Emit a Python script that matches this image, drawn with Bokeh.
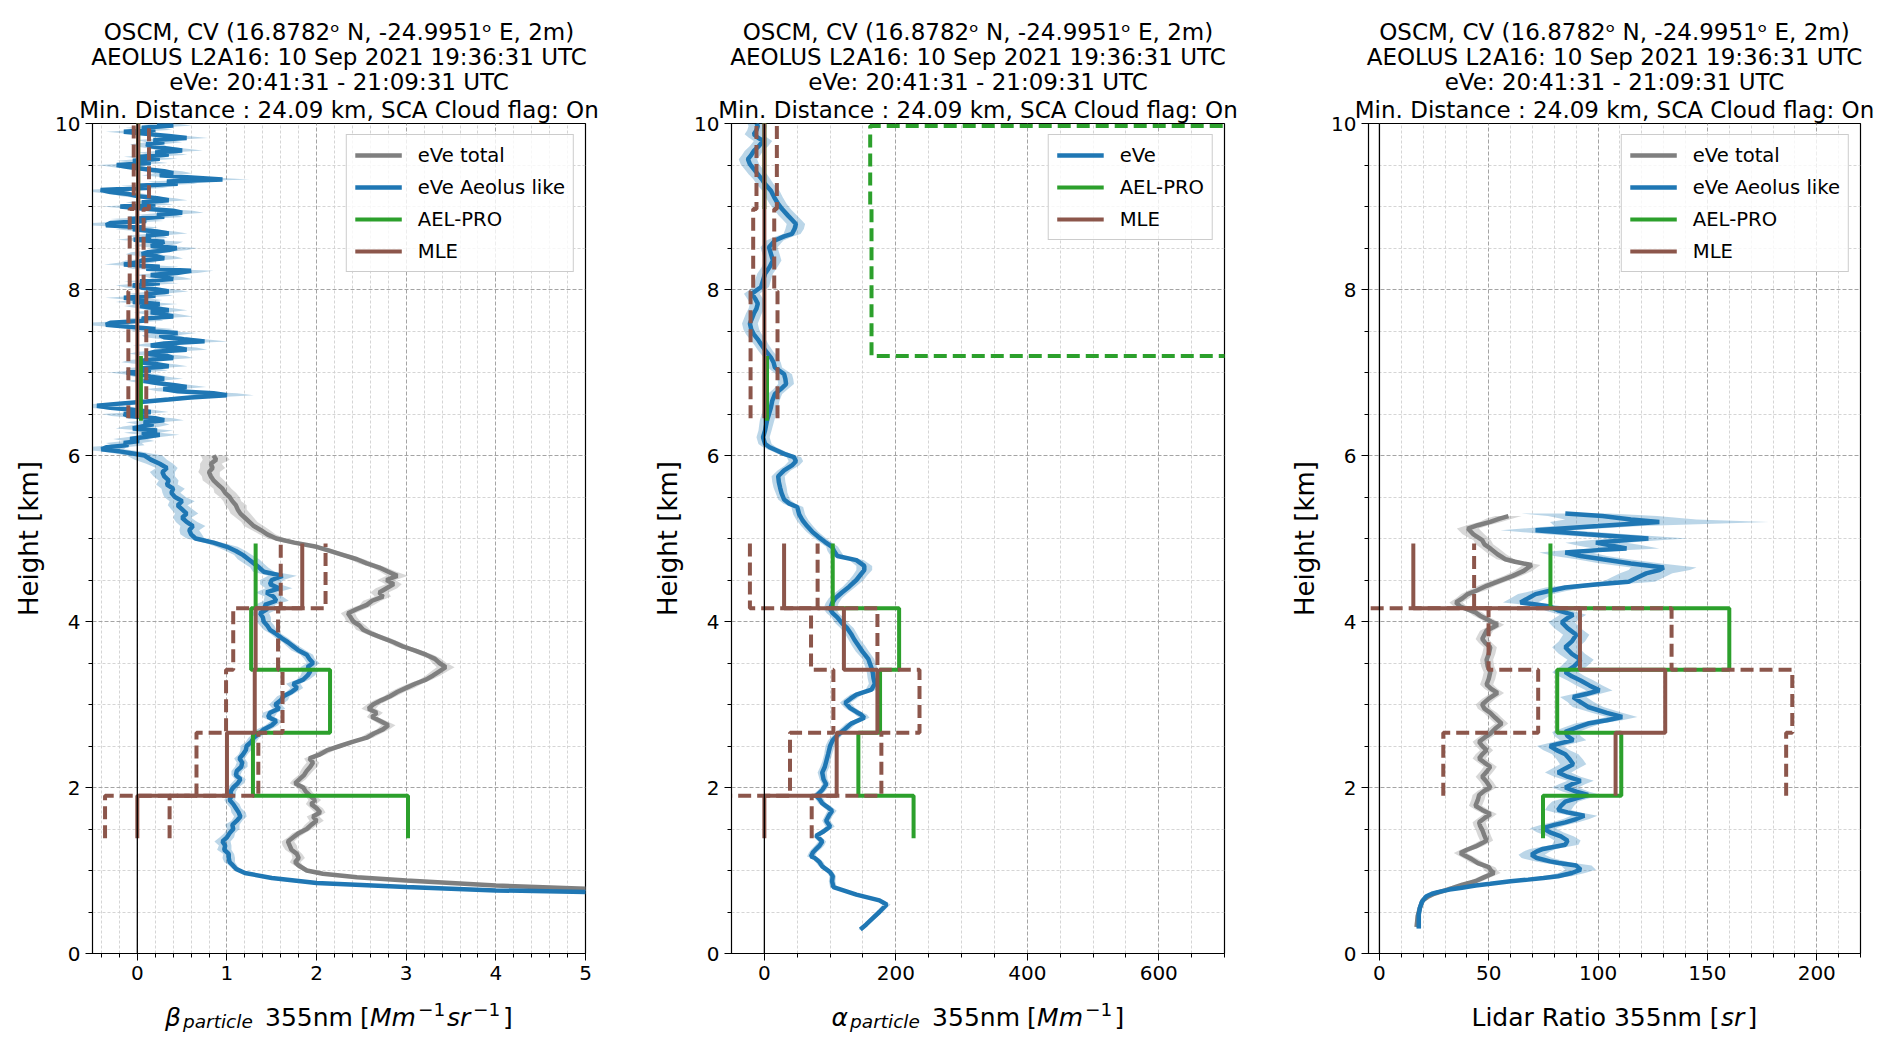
import numpy as np
from bokeh.plotting import figure
from bokeh.models import Range1d, FixedTicker, Span, Legend, LegendItem, Title
from bokeh.layouts import row, column
from bokeh.core.properties import value
from bokeh.embed import file_html
from bokeh.resources import INLINE

FONT = "DejaVu Sans"
BLUE, GRAY, GREEN, BROWN = "#1f77b4", "#7f7f7f", "#2ca02c", "#8c564b"

TITLE_LINES = [
    "OSCM, CV (16.8782\u1d52 N, -24.9951\u1d52 E, 2m)",
    "AEOLUS L2A16: 10 Sep 2021 19:36:31 UTC",
    "eVe: 20:41:31 - 21:09:31 UTC",
    "Min. Distance : 24.09 km, SCA Cloud flag: On",
]

# ---------------- ticks ----------------
Y_TICKS = [0, 2, 4, 6, 8, 10]
Y_MINOR = [0.5, 1, 1.5, 2.5, 3, 3.5, 4.5, 5, 5.5, 6.5, 7, 7.5, 8.5, 9, 9.5]
X1_TICKS = [0, 1, 2, 3, 4, 5]
X1_MINOR = [-0.4, -0.2, 0.2, 0.4, 0.6, 0.8, 1.2, 1.4, 1.6, 1.8, 2.2, 2.4, 2.6, 2.8,
            3.2, 3.4, 3.6, 3.8, 4.2, 4.4, 4.6, 4.8]
X2_TICKS = [0, 200, 400, 600]
X2_MINOR = [50, 100, 150, 250, 300, 350, 450, 500, 550, 650, 700]
X3_TICKS = [0, 50, 100, 150, 200]
X3_MINOR = [10, 20, 30, 40, 60, 70, 80, 90, 110, 120, 130, 140, 160, 170, 180, 190, 210, 220]

# ---------------- panel 1: backscatter ----------------
beta_h_mid = [1.10, 1.15, 1.20, 1.25, 1.30, 1.35, 1.40, 1.45, 1.50, 1.55, 1.60, 1.65, 1.70, 1.75, 1.80, 1.85, 1.90, 1.95,
              2.00, 2.05, 2.10, 2.15, 2.20, 2.25, 2.30, 2.35, 2.40, 2.45, 2.50, 2.55, 2.60, 2.65, 2.70, 2.75, 2.80, 2.85, 2.90, 2.95,
              3.00, 3.05, 3.10, 3.15, 3.20, 3.25, 3.30, 3.35, 3.40, 3.45, 3.50, 3.55, 3.60, 3.65, 3.70, 3.75, 3.80, 3.85, 3.90, 3.95,
              4.00, 4.05, 4.10, 4.15, 4.20, 4.25, 4.30, 4.35, 4.40, 4.45, 4.50, 4.55, 4.60, 4.65, 4.70, 4.75, 4.80, 4.85, 4.90, 4.95,
              5.00, 5.05, 5.10, 5.15, 5.20, 5.25, 5.30, 5.35, 5.40, 5.45, 5.50, 5.55, 5.60, 5.65, 5.70, 5.75, 5.80, 5.85, 5.90, 5.95, 6.00]
beta_h_up = [6.025, 6.050, 6.075, 6.100, 6.125, 6.150, 6.175, 6.200,
             6.225, 6.250, 6.275, 6.300, 6.325, 6.350, 6.375, 6.400,
             6.425, 6.450, 6.475, 6.500, 6.525, 6.550, 6.575, 6.600,
             6.625, 6.650, 6.675, 6.700, 6.725, 6.750, 6.775, 6.800,
             6.825, 6.850, 6.875, 6.900, 6.925, 6.950, 6.975, 7.000,
             7.025, 7.050, 7.075, 7.100, 7.125, 7.150, 7.175, 7.200,
             7.225, 7.250, 7.275, 7.300, 7.325, 7.350, 7.375, 7.400,
             7.425, 7.450, 7.475, 7.500, 7.525, 7.550, 7.575, 7.600,
             7.625, 7.650, 7.675, 7.700, 7.725, 7.750, 7.775, 7.800,
             7.825, 7.850, 7.875, 7.900, 7.925, 7.950, 7.975, 8.000,
             8.025, 8.050, 8.075, 8.100, 8.125, 8.150, 8.175, 8.200,
             8.225, 8.250, 8.275, 8.300, 8.325, 8.350, 8.375, 8.400,
             8.425, 8.450, 8.475, 8.500, 8.525, 8.550, 8.575, 8.600,
             8.625, 8.650, 8.675, 8.700, 8.725, 8.750, 8.775, 8.800,
             8.825, 8.850, 8.875, 8.900, 8.925, 8.950, 8.975, 9.000,
             9.025, 9.050, 9.075, 9.100, 9.125, 9.150, 9.175, 9.200,
             9.225, 9.250, 9.275, 9.300, 9.325, 9.350, 9.375, 9.400,
             9.425, 9.450, 9.475, 9.500, 9.525, 9.550, 9.575, 9.600,
             9.625, 9.650, 9.675, 9.700, 9.725, 9.750, 9.775, 9.800,
             9.825, 9.850, 9.875, 9.900, 9.925, 9.950, 9.975, 10.000]

beta_aeolus_h_base = [0.72, 0.742, 0.76, 0.80, 0.85, 0.91, 0.97, 1.02, 1.08]
beta_aeolus_base = [6.5, 5.0, 4.0, 3.0, 2.0, 1.5, 1.2, 1.1, 1.05]
beta_aeolus_base_err = [0.01, 0.01, 0.01, 0.01, 0.02, 0.02, 0.03, 0.04, 0.05]
beta_aeolus_mid = [1.03, 1.02, 1.02, 0.97, 0.98, 0.95, 1.00, 1.03, 1.07, 1.06, 1.11, 1.15, 1.13, 1.10, 1.07, 1.03, 1.05, 1.04,
                   1.07, 1.12, 1.15, 1.10, 1.11, 1.16, 1.17, 1.14, 1.18, 1.21, 1.22, 1.27, 1.30, 1.36, 1.41, 1.50, 1.55, 1.46, 1.48, 1.58,
                   1.54, 1.60, 1.63, 1.72, 1.78, 1.74, 1.85, 1.90, 1.93, 1.90, 1.96, 1.92, 1.89, 1.80, 1.74, 1.68, 1.61, 1.55, 1.48, 1.45,
                   1.41, 1.40, 1.37, 1.45, 1.42, 1.55, 1.52, 1.44, 1.58, 1.48, 1.50, 1.62, 1.41, 1.36, 1.30, 1.24, 1.18, 1.10, 1.00, 0.85,
                   0.65, 0.60, 0.58, 0.62, 0.55, 0.50, 0.55, 0.50, 0.45, 0.50, 0.42, 0.38, 0.40, 0.33, 0.35, 0.30, 0.28, 0.33, 0.25, 0.15, 0.08]
beta_aeolus_mid_err = [0.06, 0.07, 0.06, 0.08, 0.07, 0.09, 0.08, 0.06, 0.07, 0.08, 0.06, 0.07, 0.08, 0.06, 0.07, 0.06, 0.05, 0.06,
                       0.06, 0.07, 0.06, 0.05, 0.06, 0.07, 0.06, 0.06, 0.05, 0.06, 0.07, 0.06, 0.06, 0.07, 0.08, 0.07, 0.06, 0.07, 0.08, 0.07,
                       0.07, 0.08, 0.07, 0.06, 0.07, 0.08, 0.07, 0.08, 0.09, 0.08, 0.07, 0.06, 0.07, 0.08, 0.07, 0.06, 0.07, 0.06, 0.07, 0.08,
                       0.08, 0.09, 0.10, 0.12, 0.11, 0.14, 0.10, 0.12, 0.15, 0.11, 0.13, 0.16, 0.12, 0.10, 0.11, 0.12, 0.10, 0.11, 0.12, 0.10,
                       0.10, 0.12, 0.11, 0.14, 0.12, 0.10, 0.13, 0.12, 0.11, 0.14, 0.12, 0.10, 0.13, 0.12, 0.11, 0.12, 0.14, 0.12, 0.15, 0.18, 0.20]
beta_aeolus_up = [-0.05, -0.20, -0.40, -0.34, -0.10, -0.15, 0.02, -0.08,
                  0.10, 0.25, 0.05, 0.22, -0.05, 0.05, 0.18, 0.07,
                  0.30, 0.20, -0.10, -0.15, 0.15, -0.05, -0.30, -0.45,
                  -0.20, 0.10, 0.35, 0.59, 1.00, 0.85, 0.45, 0.29,
                  0.55, 0.40, 0.20, 0.07, 0.30, 0.15, 0.05, -0.12,
                  0.15, 0.05, 0.35, 0.22, 0.00, 0.10, 0.40, 0.33,
                  0.10, 0.20, 0.55, 0.44, 0.15, 0.30, 0.75, 0.52,
                  0.30, 0.25, 0.45, 0.11, 0.20, -0.10, -0.35, -0.30,
                  0.10, 0.05, 0.40, 0.29, 0.15, 0.35, 0.20, 0.03,
                  0.25, -0.05, 0.10, -0.15, 0.20, 0.10, 0.35, 0.22,
                  0.05, -0.05, 0.25, 0.03, 0.40, 0.30, 0.15, 0.44,
                  0.60, 0.10, 0.25, -0.15, 0.00, 0.05, 0.30, 0.22,
                  0.05, 0.12, 0.35, 0.44, 0.15, 0.25, 0.30, -0.04,
                  0.15, 0.10, 0.35, 0.22, -0.05, 0.05, -0.35, -0.30,
                  0.10, -0.10, 0.30, 0.22, 0.50, 0.40, 0.05, -0.19,
                  0.20, 0.05, 0.35, 0.22, 0.00, -0.10, -0.30, -0.41,
                  0.15, 0.00, 0.45, 0.33, 0.95, 0.60, 0.25, 0.40,
                  0.30, 0.10, -0.10, -0.23, 0.15, -0.05, 0.25, 0.03,
                  0.35, 0.20, 0.50, 0.33, 0.15, 0.10, 0.30, 0.18,
                  0.55, 0.35, 0.10, -0.15, 0.20, 0.05, 0.40, 0.22]
beta_aeolus_up_err = [0.20, 0.22, 0.25, 0.22, 0.18, 0.20, 0.17, 0.19,
                      0.18, 0.22, 0.20, 0.18, 0.19, 0.21, 0.18, 0.20,
                      0.22, 0.20, 0.19, 0.24, 0.20, 0.22, 0.25, 0.28,
                      0.24, 0.20, 0.22, 0.26, 0.30, 0.26, 0.22, 0.20,
                      0.22, 0.20, 0.18, 0.19, 0.21, 0.19, 0.18, 0.20,
                      0.19, 0.18, 0.21, 0.20, 0.18, 0.19, 0.22, 0.21,
                      0.20, 0.19, 0.23, 0.22, 0.20, 0.21, 0.26, 0.24,
                      0.22, 0.20, 0.21, 0.19, 0.20, 0.22, 0.25, 0.23,
                      0.19, 0.18, 0.22, 0.20, 0.19, 0.21, 0.20, 0.18,
                      0.20, 0.19, 0.18, 0.21, 0.20, 0.19, 0.22, 0.20,
                      0.18, 0.19, 0.21, 0.18, 0.22, 0.20, 0.19, 0.23,
                      0.25, 0.20, 0.21, 0.22, 0.19, 0.18, 0.21, 0.20,
                      0.18, 0.19, 0.21, 0.23, 0.19, 0.20, 0.21, 0.19,
                      0.19, 0.18, 0.21, 0.20, 0.19, 0.18, 0.22, 0.21,
                      0.19, 0.20, 0.21, 0.20, 0.24, 0.22, 0.19, 0.20,
                      0.20, 0.18, 0.21, 0.20, 0.18, 0.19, 0.22, 0.25,
                      0.19, 0.18, 0.22, 0.21, 0.30, 0.25, 0.20, 0.21,
                      0.20, 0.18, 0.19, 0.21, 0.19, 0.18, 0.20, 0.18,
                      0.21, 0.19, 0.23, 0.20, 0.18, 0.18, 0.20, 0.19,
                      0.24, 0.21, 0.18, 0.20, 0.19, 0.18, 0.21, 0.20]

beta_total_h_base = [0.76, 0.78, 0.82, 0.88, 0.92, 0.96, 1.00, 1.06]
beta_total_base = [6.5, 5.0, 4.0, 3.0, 2.45, 2.07, 1.89, 1.80]
beta_total_base_err = [0.01, 0.01, 0.01, 0.02, 0.02, 0.03, 0.04, 0.05]
beta_total_mid = [1.76, 1.80, 1.78, 1.72, 1.70, 1.68, 1.74, 1.80, 1.89, 1.94, 2.00, 1.96, 2.04, 2.00, 1.94, 1.98, 1.93, 1.88,
                  1.85, 1.76, 1.81, 1.86, 1.89, 1.93, 1.96, 1.92, 2.04, 2.12, 2.26, 2.40, 2.56, 2.64, 2.74, 2.80, 2.71, 2.62, 2.67, 2.58,
                  2.63, 2.72, 2.82, 2.90, 3.00, 3.10, 3.22, 3.30, 3.37, 3.44, 3.37, 3.32, 3.22, 3.10, 2.96, 2.86, 2.74, 2.62, 2.52, 2.48,
                  2.41, 2.38, 2.35, 2.45, 2.56, 2.62, 2.74, 2.70, 2.78, 2.86, 2.78, 2.90, 2.80, 2.70, 2.56, 2.45, 2.30, 2.15, 2.00, 1.75,
                  1.55, 1.45, 1.38, 1.30, 1.25, 1.20, 1.15, 1.12, 1.10, 1.06, 1.03, 0.98, 0.95, 0.90, 0.85, 0.82, 0.80, 0.84, 0.82, 0.88, 0.85]
beta_total_mid_err = [0.06, 0.07, 0.06, 0.07, 0.08, 0.07, 0.06, 0.07, 0.06, 0.07, 0.08, 0.07, 0.06, 0.07, 0.06, 0.07, 0.06, 0.07,
                      0.07, 0.06, 0.07, 0.06, 0.07, 0.08, 0.07, 0.06, 0.07, 0.08, 0.07, 0.06, 0.07, 0.08, 0.07, 0.08, 0.07, 0.06, 0.07, 0.08,
                      0.07, 0.08, 0.07, 0.08, 0.09, 0.08, 0.07, 0.08, 0.09, 0.10, 0.08, 0.07, 0.08, 0.07, 0.08, 0.07, 0.08, 0.07, 0.08, 0.07,
                      0.08, 0.07, 0.08, 0.09, 0.08, 0.10, 0.09, 0.10, 0.12, 0.09, 0.10, 0.12, 0.09, 0.08, 0.09, 0.08, 0.09, 0.08, 0.09, 0.10,
                      0.10, 0.09, 0.10, 0.11, 0.09, 0.10, 0.11, 0.10, 0.12, 0.10, 0.11, 0.12, 0.10, 0.11, 0.12, 0.10, 0.12, 0.14, 0.12, 0.15, 0.14]

# retrieval bins (km)
bin_edges_low = [1.39, 1.90, 2.66, 3.42, 4.16, 4.94]
aelpro_edges_up = [6.42, 7.20, 8.97, 10.2]
mle_edges_up = [6.45, 7.98, 8.97, 10.2]
aelpro_err_edges_up = [6.42, 7.20, 8.97, 9.97, 10.2]

beta_aelpro_low = [3.02, 1.29, 2.15, 1.27, 1.32]
beta_aelpro_up = [0.04, None, 0.01]
beta_mle_low = [0.0, 1.00, 1.31, 1.32, 1.84]
beta_mle_low_min = [-0.36, 0.66, 0.99, 1.07, 1.60]
beta_mle_low_max = [0.36, 1.35, 1.62, 1.57, 2.10]
beta_mle_up = [0.0, 0.0, 0.01]
beta_mle_up_min = [-0.10, -0.085, -0.04]
beta_mle_up_max = [0.10, 0.07, 0.13]

# ---------------- panel 2: extinction ----------------
alpha_h = [0.29, 0.35, 0.41, 0.50, 0.59, 0.64, 0.71, 0.80, 0.87, 0.93,
           0.98, 1.05, 1.10, 1.15, 1.17, 1.22, 1.26, 1.30, 1.35, 1.42,
           1.47, 1.53, 1.60, 1.66, 1.72, 1.77, 1.81, 1.86, 1.90, 1.97,
           2.04, 2.10, 2.18, 2.25, 2.31, 2.40, 2.50, 2.57, 2.63, 2.70,
           2.77, 2.84, 2.88, 2.91, 2.96, 3.02, 3.07, 3.12, 3.18, 3.25,
           3.32, 3.38, 3.44, 3.55, 3.64, 3.71, 3.78, 3.85, 3.92, 3.98,
           4.05, 4.10, 4.15, 4.22, 4.28, 4.35, 4.42, 4.50, 4.56, 4.62,
           4.67, 4.74, 4.79, 4.85, 4.90, 4.96, 5.02, 5.08, 5.15, 5.22,
           5.29, 5.38, 5.42, 5.47, 5.55, 5.61, 5.68, 5.75, 5.82, 5.88,
           5.93, 5.98, 6.02, 6.06, 6.10, 6.14, 6.22, 6.30, 6.42, 6.50,
           6.58, 6.66, 6.74, 6.80, 6.86, 6.92, 6.98, 7.06, 7.12, 7.18,
           7.26, 7.34, 7.40, 7.46, 7.52, 7.59, 7.65, 7.71, 7.77, 7.83,
           7.89, 7.95, 8.03, 8.11, 8.19, 8.27, 8.35, 8.43, 8.51, 8.59,
           8.64, 8.67, 8.73, 8.79, 8.84, 8.89, 8.96, 9.03, 9.11, 9.19,
           9.27, 9.33, 9.39, 9.45, 9.51, 9.57, 9.62, 9.67, 9.73, 9.79,
           9.83, 9.87, 9.92, 9.97, 10.00]
alpha_eve = [146, 155, 163, 175, 186, 175, 140, 105, 103, 104,
             100, 88, 84, 77, 71, 74, 79, 84, 88, 79,
             90, 100, 94, 98, 103, 95, 88, 84, 79, 88,
             94, 90, 88, 92, 94, 97, 100, 104, 111, 122,
             132, 152, 147, 140, 130, 123, 131, 140, 163, 168,
             166, 165, 163, 158, 149, 143, 137, 132, 126, 118,
             111, 104, 100, 103, 108, 118, 129, 140, 146, 152,
             152, 140, 111, 106, 103, 92, 82, 73, 65, 58,
             53, 50, 38, 30, 26, 24, 22, 21, 30, 42,
             48, 45, 30, 19, 8, 1, -2, 1, 4, 7,
             10, 12, 16, 25, 33, 32, 30, 16, 14, 10,
             2, -5, -10, -16, -20, -22, -19, -16, -12, -10,
             -14, -19, -5, -2, 1, 8, 13, 10, 7, 16,
             30, 42, 46, 48, 42, 36, 28, 21, 15, 10,
             1, -4, -10, -16, -22, -25, -20, -16, -8, -2,
             -10, -16, -12, -10, -12]
alpha_eve_err = [3, 3, 4, 5, 6, 6, 6, 5, 5, 5,
                 5, 5, 6, 6, 6, 6, 7, 7, 6, 6,
                 6, 7, 6, 6, 7, 7, 6, 6, 7, 6,
                 6, 6, 7, 7, 6, 6, 7, 7, 7, 8,
                 8, 8, 9, 8, 8, 8, 9, 9, 9, 9,
                 9, 9, 9, 9, 10, 10, 9, 9, 10, 10,
                 9, 9, 10, 10, 10, 10, 10, 11, 11, 12,
                 12, 11, 10, 10, 9, 9, 9, 9, 9, 9,
                 9, 9, 9, 9, 9, 10, 10, 10, 10, 11,
                 11, 11, 10, 10, 10, 10, 10, 10, 11, 11,
                 11, 11, 11, 11, 12, 12, 12, 11, 11, 11,
                 11, 11, 12, 12, 12, 12, 12, 12, 12, 12,
                 12, 12, 12, 12, 12, 12, 13, 13, 13, 13,
                 13, 13, 14, 14, 14, 14, 13, 13, 13, 13,
                 13, 13, 14, 14, 14, 14, 14, 14, 14, 14,
                 14, 14, 14, 14, 14]

alpha_aelpro_low = [227, 143, 176, 205, 104]
alpha_aelpro_up = [4, None, 0]
alpha_aelpro_err_up = [2000, 163, 161, 2000]
alpha_mle_low = [0, 110, 172, 121, 30]
alpha_mle_low_min = [-120, 39, 105, 71, -22]
alpha_mle_low_max = [72, 178, 236, 172, 81]
alpha_mle_up = [0, 0, 0]
alpha_mle_up_min = [-21, -17, -12]
alpha_mle_up_max = [20, 15, 19]

# ---------------- panel 3: lidar ratio ----------------
lr_aeolus_h = [0.30, 0.40, 0.47, 0.55, 0.62, 0.66, 0.69, 0.72, 0.74, 0.77,
               0.79, 0.82, 0.84, 0.87, 0.89, 0.91, 0.93, 0.97, 1.01, 1.06,
               1.09, 1.11, 1.15, 1.19, 1.23, 1.26, 1.31, 1.36, 1.41, 1.46,
               1.51, 1.55, 1.58, 1.62, 1.66, 1.70, 1.73, 1.78, 1.83, 1.87,
               1.91, 1.95, 2.00, 2.04, 2.08, 2.13, 2.18, 2.23, 2.28, 2.34,
               2.40, 2.45, 2.50, 2.54, 2.57, 2.62, 2.67, 2.72, 2.77, 2.81,
               2.85, 2.90, 2.97, 3.03, 3.09, 3.13, 3.17, 3.23, 3.29, 3.34,
               3.39, 3.46, 3.54, 3.61, 3.69, 3.76, 3.84, 3.92, 3.99, 4.04,
               4.08, 4.13, 4.18, 4.21, 4.23, 4.28, 4.33, 4.37, 4.41, 4.45,
               4.48, 4.53, 4.58, 4.62, 4.65, 4.70, 4.75, 4.79, 4.83, 4.86,
               4.88, 4.92, 4.95, 4.98, 5.00, 5.05, 5.10, 5.15, 5.20, 5.23,
               5.27, 5.30]
lr_aeolus = [18, 18, 18, 18.5, 19.4, 20.5, 21.5, 24, 26.7, 32,
             37, 44, 50.7, 60, 68, 75, 81.7, 88, 92, 90,
             82, 78, 72, 69.6, 72, 74.8, 85, 86, 83, 78,
             74.8, 80, 85, 90, 93.7, 86, 81.7, 83, 85, 90,
             95.4, 90, 85, 88, 92, 86, 81.7, 85, 88.6, 87,
             85, 81, 78, 84, 88.6, 86, 85, 90, 95.4, 104,
             111, 104, 95.4, 92, 88.6, 95, 100.6, 96, 92, 88,
             85, 89, 92, 88, 85, 88, 90, 86, 83.4, 86,
             88.6, 82, 78, 70, 64.5, 68, 71.4, 78, 85, 100,
             114, 118, 122, 128, 130, 115, 102, 92, 85, 100,
             113, 105, 99, 112, 123, 95, 71.4, 100, 128, 115,
             102, 85]
lr_aeolus_err = [1, 1, 1, 1, 1, 1, 1.5, 2, 2, 3,
                 3, 4, 4, 5, 5, 6, 6, 6, 7, 7,
                 7, 7, 7, 6, 6, 6, 6, 6, 6, 6,
                 6, 6, 6, 6, 6, 6, 6, 6, 6, 6,
                 6, 6, 6, 6, 6, 6, 6, 6, 6, 6,
                 6, 6, 6, 6, 6, 6, 6, 6, 6, 7,
                 7, 7, 7, 6, 6, 6, 6, 6, 6, 6,
                 6, 6, 6, 6, 6, 6, 6, 6, 6, 6,
                 6, 6, 6, 7, 8, 8, 8, 8, 9, 10,
                 12, 12, 12, 14, 15, 14, 12, 12, 12, 14,
                 15, 15, 14, 16, 18, 18, 16, 20, 50, 30,
                 25, 20]

lr_total_h = [0.32, 0.45, 0.55, 0.64, 0.68, 0.72, 0.76, 0.79, 0.83, 0.87,
              0.92, 0.97, 1.00, 1.04, 1.09, 1.14, 1.18, 1.21, 1.25, 1.29,
              1.33, 1.36, 1.42, 1.49, 1.54, 1.58, 1.63, 1.68, 1.73, 1.78,
              1.85, 1.91, 1.96, 2.00, 2.07, 2.13, 2.19, 2.25, 2.30, 2.35,
              2.40, 2.45, 2.50, 2.55, 2.60, 2.65, 2.71, 2.77, 2.84, 2.90,
              2.95, 3.00, 3.07, 3.14, 3.19, 3.24, 3.31, 3.39, 3.46, 3.54,
              3.61, 3.69, 3.74, 3.79, 3.84, 3.89, 3.93, 3.96, 4.00, 4.03,
              4.07, 4.11, 4.15, 4.18, 4.23, 4.28, 4.33, 4.38, 4.43, 4.49,
              4.55, 4.61, 4.68, 4.72, 4.75, 4.81, 4.88, 4.93, 4.98, 5.05,
              5.12, 5.16, 5.20, 5.24, 5.27]
lr_total = [17, 17.5, 18.5, 19.8, 22, 25, 30, 33.5, 38, 43.9,
            48, 52.4, 51, 50, 45, 42, 39, 37, 40, 44,
            47, 49, 48, 47, 46, 45.6, 48, 50.7, 47, 43.9,
            45, 45.6, 48, 50.7, 49, 47, 49, 50.7, 48, 45.6,
            47, 49, 47, 45.6, 48, 50.7, 53, 55.9, 53, 50.7,
            48, 47, 50, 54, 51, 49, 50, 50.7, 49.5, 49,
            50, 50.7, 48.5, 47, 48, 49, 52, 54, 51, 49,
            46, 43.9, 40, 37, 35, 38, 40.4, 45, 49, 55,
            61, 66, 69.6, 62, 57.6, 54, 50.7, 48, 47, 43,
            40.4, 45, 50.7, 55, 59]
lr_total_err = [1, 1, 1, 1, 1, 1.5, 2, 2, 2, 3,
                3, 3, 3, 3, 3, 3, 3, 3, 3, 3,
                3, 3, 3, 3, 3, 3, 3, 3, 3, 3,
                3, 3, 3, 3, 3, 3, 3, 3, 3, 3,
                3, 3, 3, 3, 3, 3, 3, 3, 3, 3,
                3, 3, 3, 3, 3, 3, 3, 3, 3, 3,
                3, 3, 3, 3, 3, 3, 3, 3, 3, 3,
                3, 3, 3, 3, 3, 3, 3, 4, 4, 4,
                4, 4, 4, 4, 4, 4, 4, 4, 4, 5,
                5, 5, 5, 6, 6]

lr_aelpro_low = [74.8, 110.6, 81.3, 160, 78.2]
lr_mle_low = [None, 108, 130.7, 91.7, 15.5]
lr_mle_low_min = [None, 29.2, 72.6, 49.9, -30]
lr_mle_low_max = [None, 186, 188.8, 133.6, 43.3]


# ---------------- helpers ----------------
def step_xy(edges, vals):
    xs, ys = [], []
    for i, v in enumerate(vals):
        if v is None:
            xs.append(np.nan); ys.append(np.nan)
            continue
        xs += [v, v]
        ys += [edges[i], edges[i + 1]]
    return xs, ys


def join_steps(*parts):
    xs, ys = [], []
    for k, (e, v) in enumerate(parts):
        a, b = step_xy(e, v)
        if k > 0:
            xs.append(np.nan); ys.append(np.nan)
        xs += a; ys += b
    return np.array(xs, dtype=float), np.array(ys, dtype=float)


TOP, FRAME_H, BOTTOM = 123, 830, 40
TITLE_PX = "23px"


def base_fig(width, left, right, xr, xt, xm):
    p = figure(width=width, height=TOP + FRAME_H + BOTTOM, x_range=Range1d(xr[0], xr[1]), y_range=Range1d(0, 10),
               output_backend="svg", toolbar_location=None,
               min_border_left=left, min_border_right=right, min_border_top=TOP, min_border_bottom=BOTTOM)
    p.background_fill_color = "white"
    p.border_fill_color = "white"
    p.outline_line_color = "black"
    p.outline_line_width = 1.2
    p.outline_line_alpha = 1
    p.xaxis.ticker = FixedTicker(ticks=xt, minor_ticks=xm)
    p.yaxis.ticker = FixedTicker(ticks=Y_TICKS, minor_ticks=Y_MINOR)
    for ax in (p.xaxis[0], p.yaxis[0]):
        ax.axis_line_color = "black"
        ax.major_tick_out = 7
        ax.major_tick_in = 0
        ax.minor_tick_out = 4
        ax.minor_tick_in = 0
        ax.major_tick_line_color = "black"
        ax.minor_tick_line_color = "black"
        ax.major_label_text_font = FONT
        ax.major_label_text_font_size = "20px"
        ax.major_label_text_color = "black"
        ax.major_label_standoff = 5
    p.yaxis.axis_label = "Height [km]"
    p.yaxis.axis_label_text_font = FONT
    p.yaxis.axis_label_text_font_size = "26px"
    p.yaxis.axis_label_text_font_style = "normal"
    p.yaxis.axis_label_text_color = "black"
    p.yaxis.axis_label_standoff = 8
    for g in (p.xgrid[0], p.ygrid[0]):
        g.grid_line_color = "#a4a4a4"
        g.grid_line_dash = "4 2"
        g.grid_line_width = 1
        g.minor_grid_line_color = "#d0d0d0"
        g.minor_grid_line_dash = "3 2"
        g.minor_grid_line_width = 0.9
    # titles: the figure's own title is drawn outermost, extra ones stack outward from the frame
    p.title.text = TITLE_LINES[0]
    p.title.align = "center"
    p.title.text_font = FONT
    p.title.text_font_size = TITLE_PX
    p.title.text_font_style = "normal"
    p.title.text_color = "black"
    p.title.standoff = -3
    for k, line in enumerate([TITLE_LINES[3], TITLE_LINES[2], TITLE_LINES[1]]):
        p.add_layout(Title(text=line, align="center", text_font=FONT, text_font_size=TITLE_PX,
                           text_font_style="normal", text_color="black",
                           standoff=2 if k == 0 else -3), "above")
    return p


def add_profile(p, h, v, err, color):
    h = np.asarray(h, dtype=float)
    v = np.asarray(v, dtype=float)
    e = np.asarray(err, dtype=float)
    p.harea(y=h, x1=v - e, x2=v + e, fill_color=color, fill_alpha=0.3)
    return p.line(x=v, y=h, line_color=color, line_width=4.5)


def add_steps(p, parts, color, dash=None, width=4):
    xs, ys = join_steps(*parts)
    kw = dict(line_color=color, line_width=width)
    if dash:
        kw["line_dash"] = dash
    return p.line(x=xs, y=ys, **kw)


def add_zero(p):
    p.add_layout(Span(location=0, dimension="height", line_color="black", line_width=1.3))


def add_legend(p, items):
    lg = Legend(items=[LegendItem(label=l, renderers=[r]) for l, r in items], location="top_right",
                label_text_font=FONT, label_text_font_size="19.6px", label_text_color="black",
                glyph_width=47, glyph_height=24, label_height=24, label_standoff=16,
                spacing=8, padding=8, margin=11,
                border_line_color="#cccccc", border_line_width=1, border_line_alpha=1,
                background_fill_color="white", background_fill_alpha=0.8)
    p.add_layout(lg)


def label_fig(width, left, right, pieces, total, base_y=16):
    """x-axis label strip under a panel; pieces = (text, px, italic, dx, dy), dx in px from label start."""
    fw = width - left - right
    lf = figure(width=width, height=40, x_range=Range1d(0, fw), y_range=Range1d(0, 40),
                output_backend="svg", toolbar_location=None,
                x_axis_location=None, y_axis_location=None,
                min_border_left=left, min_border_right=right, min_border_top=0, min_border_bottom=0)
    lf.grid.visible = False
    lf.outline_line_color = None
    lf.background_fill_color = "white"
    lf.border_fill_color = "white"
    x0 = fw / 2.0 - total / 2.0
    for t, fs, it, dx, dy in pieces:
        lf.text(x=[x0 + dx], y=[base_y + dy], text=[t], text_font=value(FONT),
                text_font_size=value(f"{fs}px"), text_font_style="italic" if it else "normal",
                text_color="black", text_align="left", text_baseline="alphabetic")
    return lf


A, S = 25, 18.5

# ---------------- panel 1 ----------------
W1, L1, R1 = 625, 92, 40
p1 = base_fig(W1, L1, R1, (-0.5, 5), X1_TICKS, X1_MINOR)
r_tot = add_profile(p1, beta_total_h_base + beta_h_mid, beta_total_base + beta_total_mid,
                    beta_total_base_err + beta_total_mid_err, GRAY)
r_aeo = add_profile(p1, beta_aeolus_h_base + beta_h_mid + beta_h_up,
                    beta_aeolus_base + beta_aeolus_mid + beta_aeolus_up,
                    beta_aeolus_base_err + beta_aeolus_mid_err + beta_aeolus_up_err, BLUE)
r_ael = add_steps(p1, [(bin_edges_low, beta_aelpro_low), (aelpro_edges_up, beta_aelpro_up)], GREEN)
r_mle = add_steps(p1, [(bin_edges_low, beta_mle_low), (mle_edges_up, beta_mle_up)], BROWN)
add_steps(p1, [(bin_edges_low, beta_mle_low_min), (mle_edges_up, beta_mle_up_min)], BROWN, dash="13 6")
add_steps(p1, [(bin_edges_low, beta_mle_low_max), (mle_edges_up, beta_mle_up_max)], BROWN, dash="13 6")
add_zero(p1)
add_legend(p1, [("eVe total", r_tot), ("eVe Aeolus like", r_aeo), ("AEL-PRO", r_ael), ("MLE", r_mle)])
lab1 = label_fig(W1, L1, R1,
                 [("\u03b2", A, True, 0, 0), ("particle", S, True, 18, -4), ("355nm", A, False, 100, 0),
                  ("[", A, False, 195, 0), ("Mm", A, True, 205, 0), ("\u22121", S, False, 253, 8),
                  ("sr", A, True, 282, 0), ("\u22121", S, False, 308, 8), ("]", A, False, 338, 0)], 348)

# ---------------- panel 2 ----------------
W2, L2, R2 = 639, 106, 40
p2 = base_fig(W2, L2, R2, (-50, 700), X2_TICKS, X2_MINOR)
r_eve = add_profile(p2, alpha_h, alpha_eve, alpha_eve_err, BLUE)
r_ael2 = add_steps(p2, [(bin_edges_low, alpha_aelpro_low), (aelpro_edges_up, alpha_aelpro_up)], GREEN)
add_steps(p2, [(aelpro_err_edges_up, alpha_aelpro_err_up)], GREEN, dash="13 6")
r_mle2 = add_steps(p2, [(bin_edges_low, alpha_mle_low), (mle_edges_up, alpha_mle_up)], BROWN)
add_steps(p2, [(bin_edges_low, alpha_mle_low_min), (mle_edges_up, alpha_mle_up_min)], BROWN, dash="13 6")
add_steps(p2, [(bin_edges_low, alpha_mle_low_max), (mle_edges_up, alpha_mle_up_max)], BROWN, dash="13 6")
add_zero(p2)
add_legend(p2, [("eVe", r_eve), ("AEL-PRO", r_ael2), ("MLE", r_mle2)])
lab2 = label_fig(W2, L2, R2,
                 [("\u03b1", A, True, 0, 0), ("particle", S, True, 18.6, -4), ("355nm", A, False, 100.6, 0),
                  ("[", A, False, 195.6, 0), ("Mm", A, True, 205.6, 0), ("\u22121", S, False, 253.6, 8),
                  ("]", A, False, 283, 0)], 293)

# ---------------- panel 3 ----------------
W3, L3, R3 = 612, 104, 16
p3 = base_fig(W3, L3, R3, (-5, 220), X3_TICKS, X3_MINOR)
r_tot3 = add_profile(p3, lr_total_h, lr_total, lr_total_err, GRAY)
r_aeo3 = add_profile(p3, lr_aeolus_h, lr_aeolus, lr_aeolus_err, BLUE)
r_ael3 = add_steps(p3, [(bin_edges_low, lr_aelpro_low)], GREEN)
r_mle3 = add_steps(p3, [(bin_edges_low, lr_mle_low)], BROWN)
add_steps(p3, [(bin_edges_low, lr_mle_low_min)], BROWN, dash="13 6")
add_steps(p3, [(bin_edges_low, lr_mle_low_max)], BROWN, dash="13 6")
add_zero(p3)
add_legend(p3, [("eVe total", r_tot3), ("eVe Aeolus like", r_aeo3), ("AEL-PRO", r_ael3), ("MLE", r_mle3)])
lab3 = label_fig(W3, L3, R3,
                 [("Lidar Ratio 355nm [", A, False, 0, 0), ("sr", A, True, 249.5, 0), ("]", A, False, 276, 0)], 286)

layout = row(column(p1, lab1), column(p2, lab2), column(p3, lab3))
open("out.html", "w").write(file_html(layout, INLINE, title="Aeolus comparison"))
